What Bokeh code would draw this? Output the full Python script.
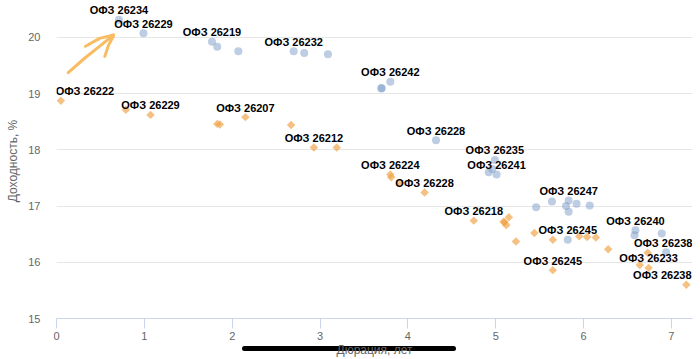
from bokeh.plotting import figure
from bokeh.models import Range1d, FixedTicker, ColumnDataSource, LinearAxis
from bokeh.core.properties import value
from bokeh.embed import file_html
from bokeh.resources import INLINE
import math

# ---- data ----
blue_x = [0.71, 0.99, 1.77, 1.83, 2.07, 2.70, 2.82, 3.09, 3.70, 3.70, 3.80, 4.32,
          4.99, 4.96, 4.92, 5.01, 5.46, 5.64, 5.80, 5.83, 5.83, 5.92, 6.07, 5.82,
          6.59, 6.58, 6.89, 6.94]
blue_y = [20.31, 20.07, 19.92, 19.83, 19.75, 19.75, 19.72, 19.70, 19.09, 19.10, 19.21, 18.17,
          17.82, 17.66, 17.60, 17.56, 16.98, 17.08, 17.00, 17.10, 16.90, 17.04, 17.01, 16.40,
          16.57, 16.48, 16.51, 16.18]

orange_x = [0.05, 0.79, 1.07, 1.83, 1.86, 2.15, 2.67, 2.93, 3.19, 3.80, 3.81, 3.91,
            4.19, 4.75, 5.15, 5.09, 5.10, 5.12, 5.23, 5.44, 5.65, 5.95, 6.04, 6.14,
            6.28, 5.65, 6.73, 6.64, 6.74, 7.17]
orange_y = [18.87, 18.71, 18.62, 18.46, 18.45, 18.58, 18.44, 18.04, 18.04, 17.56, 17.51, 17.41,
            17.24, 16.74, 16.80, 16.72, 16.71, 16.66, 16.37, 16.52, 16.40, 16.46, 16.45, 16.44,
            16.23, 15.86, 16.17, 15.95, 15.90, 15.60]

# labels: (point index, text, horizontal shift in px)
blue_labels = [(0, "ОФЗ 26234", 0), (1, "ОФЗ 26229", 0), (2, "ОФЗ 26219", 0),
               (5, "ОФЗ 26232", 0), (10, "ОФЗ 26242", 0), (11, "ОФЗ 26228", 0),
               (12, "ОФЗ 26235", 0), (15, "ОФЗ 26241", 0), (19, "ОФЗ 26247", 0),
               (23, "ОФЗ 26245", 0), (24, "ОФЗ 26240", 0), (27, "ОФЗ 26238", -3)]
orange_labels = [(0, "ОФЗ 26222", 24), (2, "ОФЗ 26229", 0), (5, "ОФЗ 26207", 0),
                 (7, "ОФЗ 26212", 0), (9, "ОФЗ 26224", 0), (12, "ОФЗ 26228", 0),
                 (13, "ОФЗ 26218", 0), (25, "ОФЗ 26245", 0), (28, "ОФЗ 26233", 0),
                 (29, "ОФЗ 26238", -24)]

x_ticks = [0, 1, 2, 3, 4, 5, 6, 7]
y_ticks = [15, 16, 17, 18, 19, 20]

# hand-drawn arrow annotation (data coords)
arrow_shaft_x = [0.133, 0.33, 0.50, 0.65]
arrow_shaft_y = [19.37, 19.64, 19.85, 20.04]
arrow_head1_x = [0.33, 0.49, 0.65]
arrow_head1_y = [19.84, 19.98, 20.04]
arrow_head2_x = [0.65, 0.59, 0.55]
arrow_head2_y = [20.03, 19.85, 19.66]

# overlay bar (screenshot's home indicator) spans these x values
bar_bounds = (2.14, 4.52)

FONT = "Liberation Sans"

p = figure(width=700, height=359, output_backend="svg", toolbar_location=None,
           x_range=Range1d(0, 7.24), y_range=Range1d(15, 20.6),
           min_border_left=56, min_border_right=8, min_border_top=3, min_border_bottom=41)
p.outline_line_color = None
p.background_fill_color = "white"
p.border_fill_color = "white"

# axes
p.xaxis.ticker = FixedTicker(ticks=x_ticks)
p.yaxis.ticker = FixedTicker(ticks=y_ticks)
p.xaxis.axis_line_color = "#ccd6eb"
p.xaxis.major_tick_line_color = "#ccd6eb"
p.xaxis.major_tick_out = 10
p.xaxis.major_tick_in = 0
p.xaxis.minor_tick_line_color = None
p.xaxis.major_label_standoff = 3
p.yaxis.axis_line_color = None
p.yaxis.major_tick_line_color = None
p.yaxis.minor_tick_line_color = None
p.yaxis.major_tick_out = 0
p.yaxis.major_label_standoff = 16
for ax in (p.xaxis, p.yaxis):
    ax.major_label_text_font = FONT
    ax.major_label_text_font_size = "11px"
    ax.major_label_text_color = "#666666"
p.yaxis.axis_label = "Доходность, %"
p.yaxis.axis_label_text_font = FONT
p.yaxis.axis_label_text_font_size = "12px"
p.yaxis.axis_label_text_font_style = "normal"
p.yaxis.axis_label_text_color = "#666666"
p.yaxis.axis_label_standoff = 5

# spacer axis (invisible) to push the bar down
spacer = LinearAxis(ticker=FixedTicker(ticks=[]), axis_line_color=None,
                    major_tick_line_color=None, minor_tick_line_color=None,
                    major_tick_out=0, major_tick_in=0, minor_tick_out=0,
                    major_label_standoff=0, major_label_text_font_size="0px",
                    axis_label=" ", axis_label_standoff=0,
                    axis_label_text_font_size="3px")
p.add_layout(spacer, "below")

# bar axis carrying the x-axis title
bar = LinearAxis(ticker=FixedTicker(ticks=[]), bounds=bar_bounds,
                 axis_line_color="black", axis_line_width=5, axis_line_cap="round",
                 major_tick_line_color=None, minor_tick_line_color=None,
                 major_tick_out=0, major_tick_in=0, minor_tick_out=0,
                 major_label_standoff=0, major_label_text_font_size="0px",
                 axis_label="Дюрация, лет", axis_label_standoff=-6,
                 axis_label_text_font=FONT, axis_label_text_font_size="12px",
                 axis_label_text_font_style="normal", axis_label_text_color="#666666")
p.add_layout(bar, "below")

p.xgrid.grid_line_color = None
p.ygrid.grid_line_color = "#e6e6e6"
p.ygrid.ticker = FixedTicker(ticks=y_ticks)

# markers
p.scatter(blue_x, blue_y, marker="circle", size=8, fill_color="#7b9cc8", fill_alpha=0.5,
          line_color=None)
p.scatter(orange_x, orange_y, marker="square", size=6, angle=math.pi / 4,
          fill_color="#f0a040", fill_alpha=0.65, line_color=None)

# data labels
lx, ly, lt, ldx = [], [], [], []
for idx, txt, dx in blue_labels:
    lx.append(blue_x[idx]); ly.append(blue_y[idx]); lt.append(txt); ldx.append(dx)
for idx, txt, dx in orange_labels:
    lx.append(orange_x[idx]); ly.append(orange_y[idx]); lt.append(txt); ldx.append(dx)
src = ColumnDataSource(dict(x=lx, y=ly, t=lt, dx=ldx))
p.text(x="x", y="y", text="t", x_offset="dx", y_offset=-9.5, source=src,
       text_align="center", text_baseline="middle", text_font=value(FONT),
       text_font_size="11px", text_font_style="bold", text_color="black")

# arrow
for xs, ys in ((arrow_shaft_x, arrow_shaft_y), (arrow_head1_x, arrow_head1_y),
               (arrow_head2_x, arrow_head2_y)):
    p.line(xs, ys, line_color="#f8bd62", line_width=3, line_cap="round", line_join="round")

open("out.html", "w").write(file_html(p, INLINE))
